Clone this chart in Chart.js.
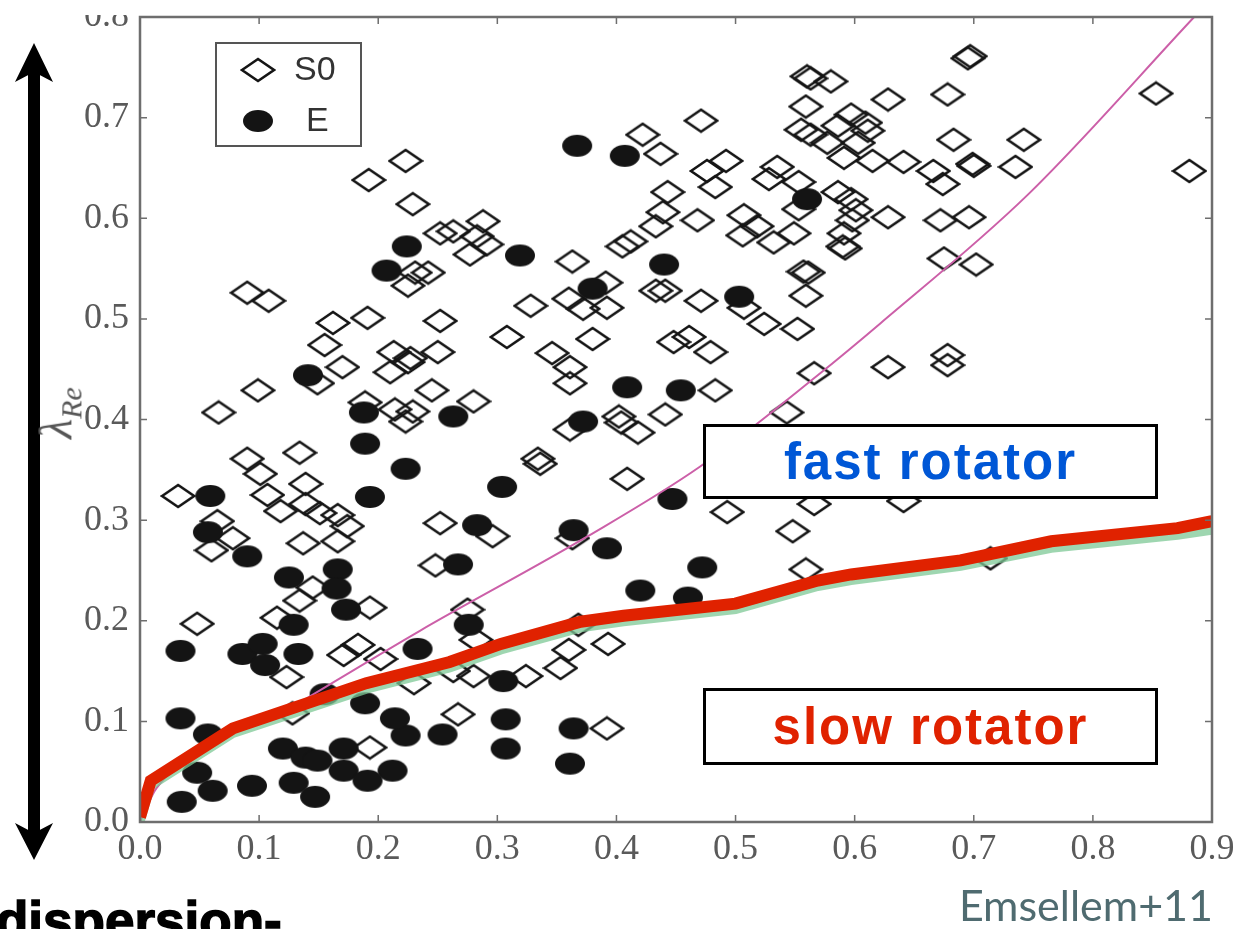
<!DOCTYPE html>
<html>
<head>
<meta charset="utf-8" />
<title>lambda_Re - S0 et E</title>
<script src="https://cdn.jsdelivr.net/npm/chart.js@4.4.0/dist/chart.umd.min.js"></script>
<style>
  body { margin: 0; background: #fff; }
  #wrap { position: relative; width: 1239px; height: 929px; overflow: hidden; }
  #wrap canvas { position: absolute; left: 0; top: 0; }
  .box { position: absolute; border: 3px solid #000; background: #fff; box-sizing: border-box;
         text-align: center; font-family: "Liberation Sans", Arial, sans-serif; font-weight: bold;
         font-size: 51px; letter-spacing: 2px; }
  #fast { left: 703px; top: 424px; width: 455px; height: 75px; line-height: 69px; color: #0057d6; }
  #slow { left: 703px; top: 688px; width: 455px; height: 77px; line-height: 71px; color: #e02200; }
  #ylab { position: absolute; left: 59px; top: 413px; transform: translate(-50%, -50%) rotate(-90deg);
          font-family: "Liberation Serif", serif; font-style: italic; color: #555; font-size: 46px; white-space: nowrap; }
  #ylab sub { font-size: 30px; }
  #disp { position: absolute; left: -4px; top: 894px; font-family: "Liberation Sans", Arial, sans-serif;
          font-weight: bold; font-size: 53px; line-height: 53px; color: #000; -webkit-text-stroke: 1.5px #000; }
  #ref { position: absolute; right: 26px; top: 883px; font-family: Lato, sans-serif; font-size: 43px;
         line-height: 43px; color: #4f6b70; }
  #mask { position: absolute; left: 0; top: 0; width: 285px; height: 15px; background: #fff; }
</style>
</head>
<body>
<div id="wrap">
  <canvas id="chart" width="1239" height="929"></canvas>
  <svg style="position:absolute;left:0;top:0" width="70" height="929">
    <rect x="28" y="70" width="12" height="765" fill="#000" />
    <polygon points="34,43 53,82 34,72 15,82" fill="#000" />
    <polygon points="34,860 53,823 34,833 15,823" fill="#000" />
  </svg>
  <div id="ylab">λ<sub>Re</sub></div>
  <div class="box" id="fast">fast rotator</div>
  <div class="box" id="slow">slow rotator</div>
  <div id="disp">dispersion-</div>
  <div id="ref">Emsellem+11</div>
  <div id="mask"></div>
</div>

<script>
// valeurs (epsilon, lambda_Re)
var xTicks = [0, 0.1, 0.2, 0.3, 0.4, 0.5, 0.6, 0.7, 0.8, 0.9];
var yTicks = [0, 0.1, 0.2, 0.3, 0.4, 0.5, 0.6, 0.7, 0.8];

var s0 = [
  [0.223,0.657],[0.192,0.638],[0.229,0.614],[0.090,0.526],[0.108,0.518],[0.225,0.533],[0.162,0.496],[0.191,0.501],
  [0.155,0.474],[0.170,0.452],[0.213,0.467],[0.210,0.447],[0.225,0.457],[0.099,0.429],[0.066,0.407],[0.149,0.436],
  [0.189,0.417],[0.214,0.410],[0.223,0.398],[0.229,0.408],[0.134,0.367],[0.090,0.361],[0.101,0.346],[0.107,0.325],
  [0.118,0.309],[0.139,0.336],[0.139,0.316],[0.151,0.307],[0.166,0.305],[0.174,0.294],[0.137,0.277],[0.166,0.279],
  [0.032,0.324],[0.065,0.299],[0.078,0.282],[0.060,0.270],[0.145,0.233],[0.134,0.220],[0.193,0.213],[0.048,0.197],
  [0.115,0.203],[0.123,0.144],[0.171,0.166],[0.183,0.176],[0.202,0.162],[0.230,0.138],[0.128,0.108],[0.193,0.074],
  [0.560,0.741],[0.559,0.711],[0.555,0.688],[0.563,0.683],[0.471,0.697],[0.422,0.683],[0.437,0.664],[0.476,0.647],
  [0.492,0.657],[0.483,0.631],[0.535,0.651],[0.528,0.639],[0.553,0.636],[0.443,0.626],[0.439,0.606],[0.433,0.592],
  [0.468,0.598],[0.507,0.603],[0.518,0.592],[0.506,0.583],[0.532,0.576],[0.549,0.585],[0.553,0.609],[0.252,0.585],
  [0.263,0.587],[0.288,0.597],[0.277,0.564],[0.291,0.574],[0.283,0.582],[0.231,0.546],[0.242,0.546],[0.363,0.557],
  [0.405,0.572],[0.412,0.577],[0.328,0.513],[0.360,0.520],[0.372,0.510],[0.391,0.536],[0.392,0.511],[0.441,0.528],
  [0.433,0.528],[0.471,0.518],[0.507,0.511],[0.559,0.523],[0.557,0.547],[0.252,0.498],
  [0.695,0.759],[0.697,0.761],[0.563,0.739],[0.580,0.736],[0.628,0.718],[0.678,0.723],[0.853,0.724],[0.597,0.703],
  [0.609,0.695],[0.586,0.692],[0.611,0.687],[0.683,0.678],[0.742,0.678],[0.577,0.675],[0.603,0.675],[0.591,0.660],
  [0.615,0.657],[0.641,0.656],[0.666,0.647],[0.699,0.654],[0.700,0.652],[0.735,0.651],[0.674,0.634],[0.881,0.647],
  [0.586,0.626],[0.597,0.619],[0.601,0.608],[0.628,0.601],[0.672,0.598],[0.696,0.601],[0.598,0.598],[0.591,0.585],
  [0.590,0.572],[0.592,0.570],[0.675,0.560],[0.702,0.554],[0.561,0.546],
  [0.308,0.482],[0.380,0.480],[0.250,0.467],[0.227,0.461],[0.346,0.466],[0.361,0.452],[0.361,0.436],[0.448,0.477],
  [0.461,0.482],[0.479,0.467],[0.524,0.495],[0.552,0.490],[0.245,0.429],[0.280,0.418],[0.361,0.390],[0.402,0.403],
  [0.404,0.397],[0.418,0.387],[0.441,0.405],[0.483,0.429],[0.543,0.407],[0.566,0.446],[0.334,0.361],[0.336,0.356],
  [0.409,0.341],[0.252,0.297],[0.296,0.284],[0.363,0.282],[0.248,0.255],[0.493,0.308],[0.548,0.289],[0.559,0.251],
  [0.275,0.211],[0.628,0.452],[0.678,0.464],[0.678,0.454],[0.714,0.262],[0.566,0.316],[0.641,0.319],
  [0.282,0.181],[0.263,0.150],[0.280,0.145],[0.324,0.145],[0.353,0.153],[0.360,0.171],[0.368,0.196],[0.393,0.177],
  [0.267,0.107],[0.392,0.093]
];

var ell = [
  [0.367,0.672],[0.407,0.662],[0.560,0.619],[0.224,0.572],[0.207,0.548],[0.319,0.563],[0.440,0.554],[0.380,0.530],
  [0.503,0.522],[0.141,0.444],[0.188,0.407],[0.189,0.376],[0.223,0.351],[0.193,0.323],[0.059,0.324],[0.057,0.288],
  [0.090,0.264],[0.125,0.243],[0.166,0.251],[0.165,0.232],[0.173,0.211],[0.263,0.403],[0.409,0.432],[0.454,0.429],
  [0.372,0.398],[0.304,0.333],[0.447,0.321],[0.283,0.295],[0.364,0.290],[0.392,0.272],[0.267,0.256],[0.472,0.253],
  [0.420,0.230],[0.460,0.223],[0.276,0.196],[0.233,0.172],[0.305,0.140],[0.307,0.102],[0.307,0.073],[0.364,0.093],
  [0.361,0.058],[0.254,0.087],[0.223,0.086],[0.214,0.103],[0.212,0.051],[0.034,0.170],[0.086,0.167],[0.103,0.177],
  [0.105,0.156],[0.133,0.167],[0.129,0.196],[0.034,0.103],[0.057,0.087],[0.048,0.049],[0.035,0.020],[0.061,0.031],
  [0.094,0.036],[0.120,0.073],[0.139,0.064],[0.149,0.061],[0.129,0.039],[0.147,0.025],[0.171,0.073],[0.171,0.051],
  [0.189,0.118],[0.191,0.041],[0.155,0.127]
];

// limite rapide / lent (rouge) et trait vert en dessous
var slowX = [0, 0.009, 0.078, 0.19, 0.26, 0.303, 0.37, 0.406, 0.5, 0.569, 0.597, 0.689, 0.765, 0.871, 0.9];
var slowY = [0.005, 0.041, 0.093, 0.138, 0.159, 0.177, 0.199, 0.205, 0.217, 0.240, 0.246, 0.260, 0.279, 0.292, 0.299];
var greenY = [0.0, 0.036, 0.088, 0.132, 0.153, 0.171, 0.193, 0.199, 0.211, 0.234, 0.240, 0.254, 0.272, 0.285, 0.290];

// courbe magenta
var magX = [0, 0.014, 0.126, 0.235, 0.376, 0.47, 0.569, 0.622, 0.745, 0.885];
var magY = [0, 0.034, 0.113, 0.19, 0.284, 0.353, 0.444, 0.496, 0.623, 0.8];

function pts(arr) { return arr.map(function (p) { return { x: p[0], y: p[1] }; }); }
function xy(xs, ys) { return xs.map(function (v, i) { return { x: v, y: ys[i] }; }); }

function diamondImg() {
  var c = document.createElement('canvas');
  c.width = 36; c.height = 26;
  var g = c.getContext('2d');
  g.strokeStyle = '#151515';
  g.lineWidth = 2.6;
  g.beginPath();
  g.moveTo(2, 13); g.lineTo(18, 2); g.lineTo(34, 13); g.lineTo(18, 24); g.closePath();
  g.stroke();
  return c;
}
function ellipseImg() {
  var c = document.createElement('canvas');
  c.width = 34; c.height = 24;
  var g = c.getContext('2d');
  g.fillStyle = '#141414';
  g.beginPath();
  g.ellipse(17, 12, 15, 11, 0, 0, Math.PI * 2);
  g.fill();
  return c;
}
var dia = diamondImg();
var ovl = ellipseImg();

var frame = {
  id: 'frame',
  afterDatasetsDraw: function (chart) {
    var ctx = chart.ctx, a = chart.chartArea, x = chart.scales.x, y = chart.scales.y;
    ctx.save();
    ctx.strokeStyle = '#6e6e6e';
    ctx.lineWidth = 2.5;
    ctx.strokeRect(a.left, a.top, a.right - a.left, a.bottom - a.top);
    ctx.lineWidth = 1.5;
    ctx.beginPath();
    xTicks.forEach(function (v) {
      var p = x.getPixelForValue(v);
      ctx.moveTo(p, a.bottom); ctx.lineTo(p, a.bottom - 7);
      ctx.moveTo(p, a.top); ctx.lineTo(p, a.top + 7);
    });
    yTicks.forEach(function (v) {
      var p = y.getPixelForValue(v);
      ctx.moveTo(a.left, p); ctx.lineTo(a.left + 7, p);
      ctx.moveTo(a.right, p); ctx.lineTo(a.right - 7, p);
    });
    ctx.stroke();

    // legende
    var lx = a.left + 76, ly = a.top + 26;
    ctx.fillStyle = '#fff';
    ctx.fillRect(lx, ly, 145, 103);
    ctx.strokeStyle = '#555';
    ctx.lineWidth = 2;
    ctx.strokeRect(lx, ly, 145, 103);
    ctx.drawImage(dia, lx + 42 - 18, ly + 27 - 13);
    ctx.drawImage(ovl, lx + 42 - 17, ly + 78 - 12);
    ctx.fillStyle = '#333';
    ctx.font = '34px "Liberation Sans", Arial, sans-serif';
    ctx.textBaseline = 'middle';
    ctx.fillText('S0', lx + 78, ly + 28);
    ctx.fillText('E', lx + 90, ly + 79);
    ctx.restore();
  }
};

var tickFont = { family: '"Liberation Serif", serif', size: 36 };

new Chart(document.getElementById('chart').getContext('2d'), {
  type: 'scatter',
  data: {
    datasets: [
      { label: 'slow', data: xy(slowX, slowY), showLine: true, borderColor: '#e02200', borderWidth: 12,
        pointRadius: 0, order: 1 },
      { label: 'green', data: xy(slowX, greenY), showLine: true, borderColor: 'rgba(125,200,150,0.75)', borderWidth: 9,
        pointRadius: 0, order: 2 },
      { label: 'mag', data: xy(magX, magY), showLine: true, borderColor: '#cc5fa8', borderWidth: 2,
        pointRadius: 0, cubicInterpolationMode: 'monotone', order: 3 },
      { label: 'E', data: pts(ell), pointStyle: ovl, pointRadius: 15, order: 4 },
      { label: 'S0', data: pts(s0), pointStyle: dia, pointRadius: 16, order: 5 }
    ]
  },
  options: {
    responsive: false,
    animation: false,
    events: [],
    layout: { padding: { left: 0, right: 27, top: 8, bottom: 0 } },
    plugins: { legend: { display: false }, tooltip: { enabled: false } },
    scales: {
      x: {
        type: 'linear', min: 0, max: 0.9,
        grid: { display: false, drawTicks: false }, border: { display: false },
        ticks: { stepSize: 0.1, font: tickFont, color: '#5a5a5a', padding: 6,
                 callback: function (v) { return v.toFixed(1); } },
        afterFit: function (s) { s.height = 107; s.paddingLeft = 0; s.paddingRight = 0; }
      },
      y: {
        type: 'linear', min: 0, max: 0.8,
        grid: { display: false, drawTicks: false }, border: { display: false },
        ticks: { stepSize: 0.1, font: tickFont, color: '#5a5a5a', padding: 11,
                 callback: function (v) { return v.toFixed(1); } },
        afterFit: function (s) { s.width = 140; s.paddingTop = 0; s.paddingBottom = 0; }
      }
    }
  },
  plugins: [frame]
});
</script>
</body>
</html>
